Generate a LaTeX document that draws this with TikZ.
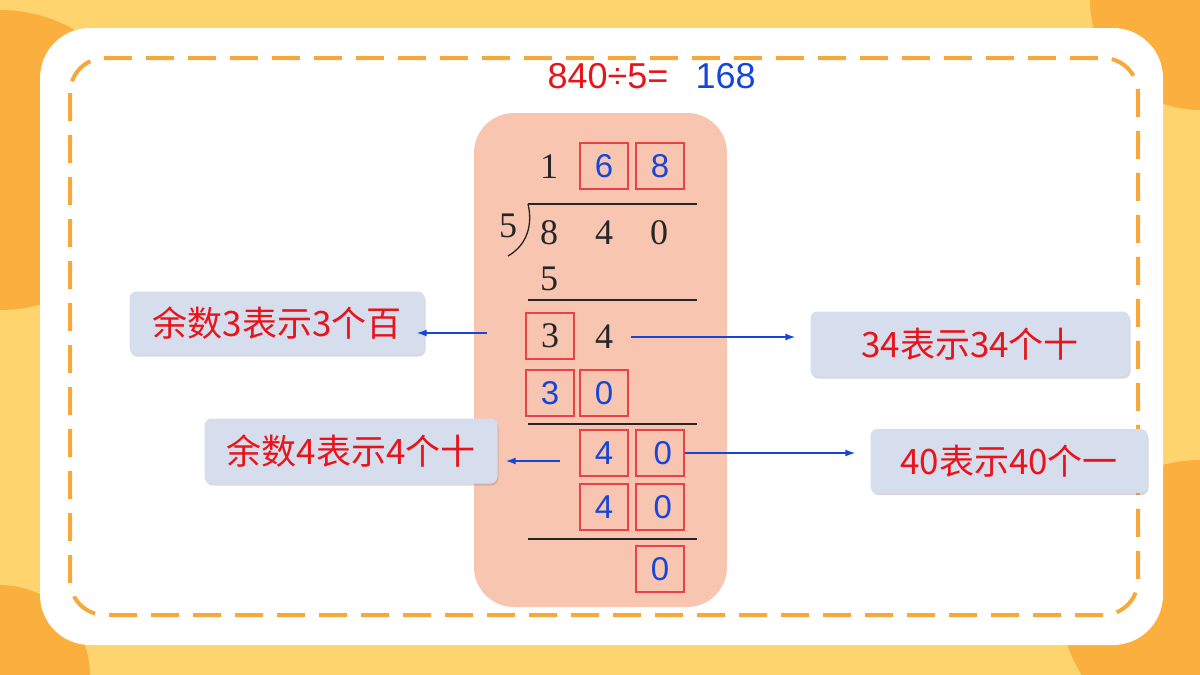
\documentclass[tikz,border=0pt]{standalone}
\usepackage{fontspec}
\setmainfont{Liberation Serif}
\newfontfamily\cjk{Noto Sans CJK SC}
\newfontfamily\sans{Liberation Sans}
\usetikzlibrary{shadows,arrows.meta}
\definecolor{bgy}{HTML}{FDD46E}
\definecolor{bgo}{HTML}{FBAF3E}
\definecolor{dashc}{HTML}{F7A83A}
\definecolor{peach}{HTML}{F8C5B1}
\definecolor{lab}{HTML}{D6DDEC}
\definecolor{rd}{HTML}{E8141B}
\definecolor{bl}{HTML}{1646D8}
\definecolor{bx}{HTML}{E8414A}
\tikzset{
 dig/.style={font=\fontsize{36}{36}\selectfont, text=black!85},
 bdig/.style={font=\sans\fontsize{33}{33}\selectfont, text=bl},
 box/.style={draw=bx, line width=1.2pt, minimum width=48pt, minimum height=46pt, inner sep=0pt},
 lbl/.style={fill=lab, rounded corners=7pt, drop shadow={shadow xshift=1pt,shadow yshift=-2pt,opacity=0.3}, text=rd, font=\cjk\fontsize{35}{35}\selectfont, inner sep=0pt},
 arr/.style={-{Latex[length=10pt,width=7pt]}, draw=bl, line width=1.4pt},
 rule/.style={draw=black!85, line width=1.3pt}
}
\begin{document}
\begin{tikzpicture}[x=1pt,y=-1pt]
\useasboundingbox (0,0) rectangle (1200,675);
\fill[bgy] (0,0) rectangle (1200,675);
\fill[bgo] (0,160) circle (150);
\fill[bgo] (0,675) circle (90);
\fill[bgo] (1200,0) circle (110);
\fill[bgo] (1200,600) circle (140);
\fill[white] (40,28) [rounded corners=50pt] rectangle (1163,645);
\draw[dashc, line width=4pt, dash pattern=on 28pt off 14pt, rounded corners=35pt] (70,58) rectangle (1138,615);
\fill[peach, rounded corners=40pt] (474,113) rectangle (727,607);
% title
\node[text=rd, font=\sans\fontsize{36}{36}\selectfont, anchor=east] (t1) at (672,76) {840÷5=};
\node[text=bl, font=\sans\fontsize{36}{36}\selectfont, anchor=west] (t2) at (692,76) {168};
% quotient
\node[dig] (q1) at (549,167) {1};
\node[box,bdig] (q2) at (604,166) {6};
\node[box,bdig] (q3) at (660,166) {8};
\draw[rule] (528,204) -- (697,204);
\node[dig] (dv) at (508,226) {5};
\draw[rule] (528,204) .. controls (533,225) and (527,245) .. (508,256);
\node[dig] (d1) at (549,233) {8};
\node[dig] (d2) at (604,233) {4};
\node[dig] (d3) at (659,233) {0};
\node[dig] (s1) at (549,279) {5};
\draw[rule] (528,300) -- (697,300);
\node[box,dig] (r3) at (550,336) {3};
\node[dig] (r4) at (604,337) {4};
\node[box,bdig] (p3) at (550,393) {3};
\node[box,bdig] (p0) at (604,393) {0};
\draw[rule] (528,424) -- (697,424);
\node[box,bdig] (a4) at (604,453) {4};
\node[box,bdig] (a0) at (660,453) {\,0};
\node[box,bdig] (b4) at (604,507) {4};
\node[box,bdig] (b0) at (660,507) {\,0};
\draw[rule] (528,539) -- (697,539);
\node[box,bdig] (z0) at (660,569) {0};
% labels
\node[lbl, minimum width=295pt, minimum height=63pt] (L1) at (277,323) {余数3表示3个百};
\node[lbl, minimum width=319pt, minimum height=65pt] (L2) at (970,344) {34表示34个十};
\node[lbl, minimum width=293pt, minimum height=65pt] (L3) at (351,451) {余数4表示4个十};
\node[lbl, minimum width=277pt, minimum height=64pt] (L4) at (1009,461) {40表示40个一};
\coordinate (c1) at (487,333);
\coordinate (c3) at (560,461);
\draw[arr] (c1) -- ([xshift=-8pt]L1.east |- c1);
\draw[arr] (631,337) -- ([xshift=-15pt]L2.west |- 0,337);
\draw[arr] (c3) -- ([xshift=8pt]L3.east |- c3);
\draw[arr] (a0.east) -- ([xshift=-15pt]L4.west |- a0.east);
\end{tikzpicture}
\end{document}
